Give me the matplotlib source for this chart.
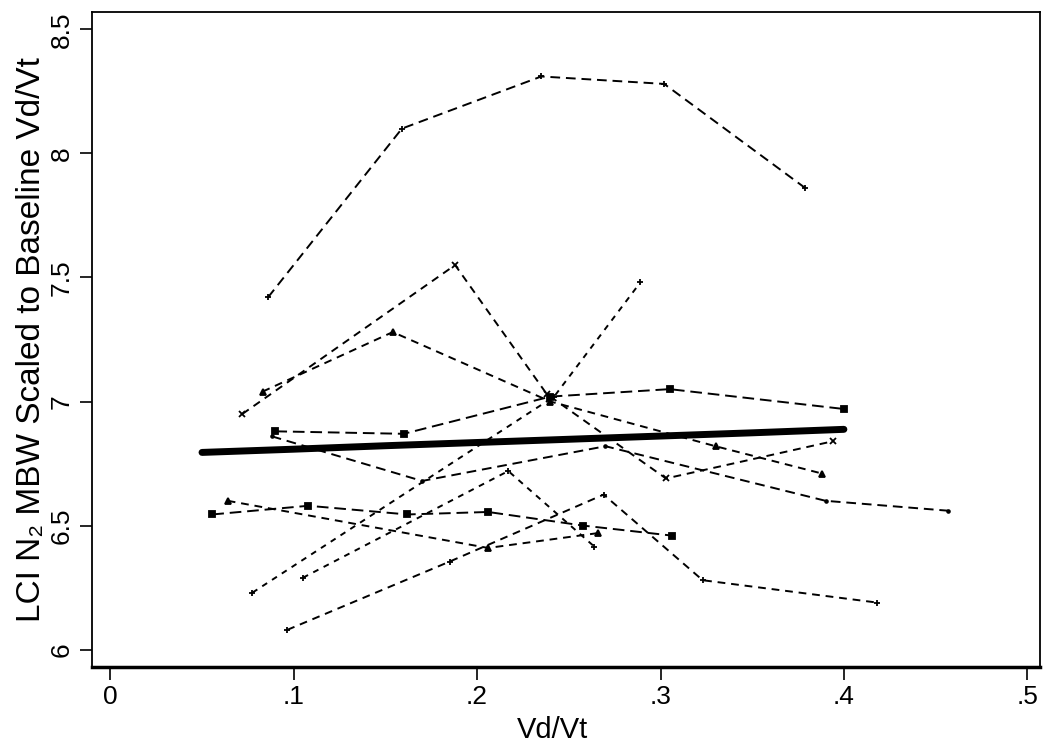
import matplotlib
matplotlib.use('Agg')
from matplotlib import pyplot as plt

plt.rcParams['font.family'] = ['Liberation Sans', 'DejaVu Sans']

# individual subjects: Vd/Vt and scaled LCI
xa = [0.086, 0.159, 0.235, 0.302, 0.379]
ya = [7.42, 8.10, 8.31, 8.28, 7.86]
xb = [0.072, 0.188, 0.238, 0.303, 0.394]
yb = [6.95, 7.55, 7.03, 6.69, 6.84]
xc = [0.083, 0.154, 0.24, 0.33, 0.388]
yc = [7.04, 7.28, 7.00, 6.82, 6.71]
xd = [0.0775, 0.242, 0.289]
yd = [6.23, 7.02, 7.48]
xe = [0.09, 0.16, 0.24, 0.305, 0.40]
ye = [6.88, 6.87, 7.02, 7.05, 6.97]
xf = [0.088, 0.17, 0.27, 0.39, 0.457]
yf = [6.86, 6.68, 6.82, 6.60, 6.56]
xi = [0.105, 0.217, 0.264]
yi = [6.29, 6.72, 6.415]
xj = [0.0965, 0.185, 0.269, 0.323, 0.418]
yj = [6.08, 6.355, 6.625, 6.28, 6.19]
xk = [0.0556, 0.108, 0.162, 0.206, 0.258, 0.306]
yk = [6.545, 6.58, 6.545, 6.555, 6.50, 6.46]
xl = [0.064, 0.206, 0.266]
yl = [6.60, 6.41, 6.47]

# mean fit
xm = [0.05, 0.10, 0.15, 0.20, 0.25, 0.30, 0.35, 0.40]
ym = [6.795, 6.808, 6.822, 6.835, 6.848, 6.861, 6.874, 6.888]

subjects = [
    (xa, ya, '+', (5, 3)),
    (xb, yb, 'x', (4, 3)),
    (xc, yc, '^', (4, 3)),
    (xd, yd, '+', (3, 3)),
    (xe, ye, 's', (6, 3)),
    (xf, yf, '.', (5, 3)),
    (xi, yi, '+', (3, 3)),
    (xj, yj, '+', (4, 3)),
    (xk, yk, 's', (6, 3)),
    (xl, yl, '^', (4, 3)),
]

fig = plt.figure(figsize=(10.5, 7.47), dpi=100)
ax = fig.add_axes([0.0876, 0.107, 0.903, 0.877])

for x, y, m, d in subjects:
    ax.plot(x, y, color='black', lw=1.4, dashes=d, marker=m, ms=4,
            mew=1.3, mfc='black')

ax.plot(xm, ym, color='black', lw=5, solid_capstyle='round')

ax.set_xlim(-0.01, 0.507)
ax.set_ylim(5.93, 8.57)
ax.set_xticks([0, 0.1, 0.2, 0.3, 0.4, 0.5])
ax.set_xticklabels(['0', '.1', '.2', '.3', '.4', '.5'])
ax.set_yticks([6, 6.5, 7, 7.5, 8, 8.5])
ax.set_yticklabels(['6', '6.5', '7', '7.5', '8', '8.5'], rotation=90, va='center')
ax.tick_params(direction='out', length=9, width=1.2, labelsize=19, pad=4)
for s in ax.spines.values():
    s.set_linewidth(1.3)
ax.spines['bottom'].set_linewidth(2.5)

ax.set_xlabel('Vd/Vt', fontsize=21)
ax.set_ylabel('LCI N\u2082 MBW Scaled to Baseline Vd/Vt', fontsize=24)
ax.xaxis.set_label_coords(0.486, -0.075)
ax.yaxis.set_label_coords(-0.047, 0.50)

fig.savefig('out.png', dpi=100)
